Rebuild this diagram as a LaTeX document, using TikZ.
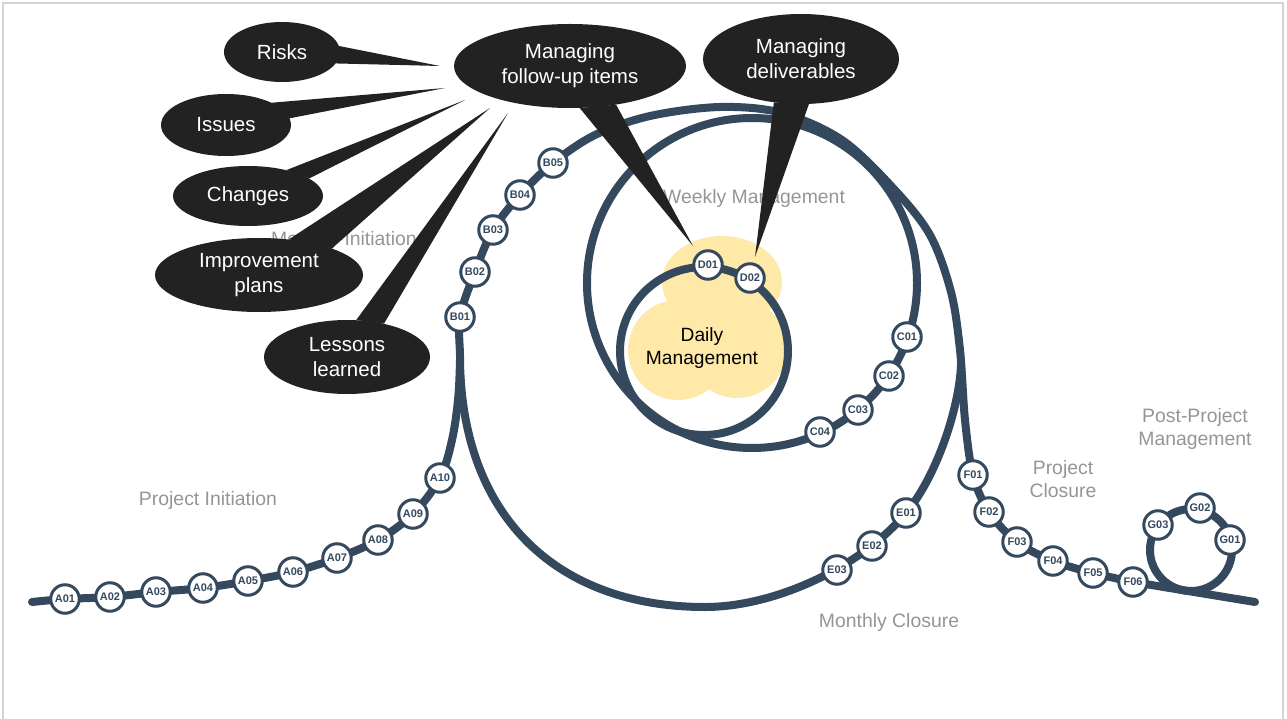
\documentclass[tikz,border=0pt]{standalone}
\usepackage{fontspec}
\setmainfont{Liberation Sans}
\usetikzlibrary{shapes.geometric}
\definecolor{trackc}{HTML}{34495E}
\definecolor{callc}{HTML}{222222}
\definecolor{grayt}{HTML}{959595}
\definecolor{cloudc}{HTML}{FFE9A8}
\definecolor{framec}{HTML}{D4D4D4}
\begin{document}
\begin{tikzpicture}[x=1pt,y=-1pt,
  track/.style={draw=trackc, line width=8pt, line cap=round, line join=round},
  stn/.style={circle, draw=trackc, fill=white, line width=3pt, minimum size=28.5pt, inner sep=0pt, text=trackc, font=\fontsize{11}{13}\selectfont\bfseries},
  phase/.style={text=grayt, align=center, inner sep=0pt, font=\fontsize{19.4}{23}\selectfont},
  callout/.style={ellipse, fill=callc, text=white, align=center, inner sep=0pt, font=\fontsize{20.5}{25}\selectfont},
  tail/.style={fill=callc}
]
\useasboundingbox (0,0) rectangle (1287,719);
\draw[framec, line width=1.5pt] (3,722) -- (3,3) -- (1283,3) -- (1283,722);

% ---- coordinates of the track ----
\coordinate (T0) at (32,602);
\coordinate (cA01) at (65,599);
\coordinate (cA02) at (110,597);
\coordinate (cA03) at (156,592);
\coordinate (cA04) at (203,588);
\coordinate (cA05) at (248,581);
\coordinate (cA06) at (293,572);
\coordinate (cA07) at (337,558);
\coordinate (cA08) at (378,540);
\coordinate (cA09) at (413,514);
\coordinate (cA10) at (440,478);
\coordinate (k1) at (452,440);
\coordinate (k2) at (458,400);
\coordinate (k3) at (460,360);
\coordinate (cB01) at (460,317);
\coordinate (cB02) at (475,272);
\coordinate (cB03) at (493,230);
\coordinate (cB04) at (520,195);
\coordinate (cB05) at (553,163);
\coordinate (o1) at (595,135);
\coordinate (o2) at (650,116);
\coordinate (o3) at (720,107);
\coordinate (o4) at (782,113);
\coordinate (o5) at (842,140);
\coordinate (o6) at (893,188);
\coordinate (o7) at (930,235);
\coordinate (o8) at (951,292);
\coordinate (o9) at (960,350);
\coordinate (o10) at (965,420);
\coordinate (cF01) at (973,475);
\coordinate (cF02) at (989,512);
\coordinate (cF03) at (1017,542);
\coordinate (cF04) at (1053,561);
\coordinate (cF05) at (1093,573);
\coordinate (cF06) at (1133,582);
\coordinate (T1) at (1255,602);
\coordinate (mb) at (705,607);
\coordinate (cE03) at (837,570);
\coordinate (cE02) at (872,546);
\coordinate (cE01) at (906,513);
\coordinate (m10) at (961,365);
\coordinate (Wc) at (752,283);
\coordinate (Dc) at (704,351);
\coordinate (Gc) at (1191,550);
\coordinate (cC01) at (907,337);
\coordinate (cC02) at (889,376);
\coordinate (cC03) at (858,410);
\coordinate (cC04) at (820,432);
\coordinate (cD01) at (708,265);
\coordinate (cD02) at (750,278);
\coordinate (cG01) at (1230,540);
\coordinate (cG02) at (1200,508);
\coordinate (cG03) at (1158,525);

% ---- daily cloud ----
\fill[cloudc] (722,282) ellipse[x radius=60, y radius=46];
\fill[cloudc] (678,350) circle[radius=50];
\fill[cloudc] (737,348) circle[radius=50];

% ---- track ----
\draw[track] plot[smooth, tension=0.55] coordinates {(T0) (cA01) (cA02) (cA03) (cA04) (cA05) (cA06) (cA07) (cA08) (cA09) (cA10) (k1) (k2) (k3) (cB01) (cB02) (cB03) (cB04) (cB05) (o1) (o2) (o3) (o4) (o5) (o6) (o7) (o8) (o9) (o10) (cF01) (cF02) (cF03) (cF04) (cF05) (cF06)} -- (T1);
\draw[track] (k3) .. controls (462,520) and (560,607) .. (mb)
  .. controls (775,607) and (861,567) .. (cE01)
  .. controls (936,477) and (959,410) .. (m10);
\draw[track] (Wc) circle[radius=165];
\draw[track] (Dc) circle[radius=84];
\draw[track] (Gc) circle[radius=41];

\node[text=black, align=center, inner sep=0pt, font=\fontsize{19.2}{23}\selectfont] (daily) at (702,348) {Daily\\Management};

% ---- stations ----
\foreach \n in {A01,A02,A03,A04,A05,A06,A07,A08,A09,A10,B01,B02,B03,B04,B05,C01,C02,C03,C04,D01,D02,E01,E02,E03,F01,F02,F03,F04,F05,F06,G01,G02,G03}
  \node[stn] (\n) at (c\n) {\n};

% ---- phase labels ----
\node[phase] (lmi) at (344,240) {Monthly Initiation};
\node[phase] (lwm) at (754,198) {Weekly Management};
\node[phase] (lpi) at (208,500) {Project Initiation};
\node[phase] (lmc) at (889,622) {Monthly Closure};
\node[phase] (lpc) at (1063,479) {Project\\Closure};
\node[phase] (lpp) at (1195,429) {Post-Project\\Management};

% ---- callouts ----
\coordinate (tR) at (440,66);
\coordinate (tI) at (445,88);
\coordinate (tC) at (465,100);
\coordinate (tP) at (490,108);
\coordinate (tL) at (508,113);
\coordinate (tF) at (693,246);
\coordinate (tD) at (755,257);

\node[callout, minimum width=116pt, minimum height=60pt] (risks) at (282,52) {Risks};
\node[callout, minimum width=130pt, minimum height=62pt] (issues) at (226,125) {Issues};
\node[callout, minimum width=150pt, minimum height=60pt] (changes) at (248,196) {Changes};
\node[callout, minimum width=208pt, minimum height=74pt] (impr) at (259,275) {Improvement\\plans};
\node[callout, minimum width=166pt, minimum height=74pt] (lessons) at (347,357) {Lessons\\learned};
\node[callout, minimum width=232pt, minimum height=84pt] (follow) at (570,66) {Managing\\follow-up items};
\node[callout, minimum width=196pt, minimum height=90pt] (deliv) at (801,59) {Managing\\deliverables};

\fill[tail] (risks.6) -- (tR) -- (risks.-12) -- cycle;
\fill[tail] (issues.26) -- (tI) -- (issues.6) -- cycle;
\fill[tail] (changes.34) -- (tC) -- (changes.16) -- cycle;
\fill[tail] (impr.50) -- (tP) -- (impr.20) -- cycle;
\fill[tail] (lessons.76) -- (tL) -- (lessons.42) -- cycle;
\fill[tail] (follow.-77) -- (tF) -- (follow.-40) -- cycle;
\fill[tail] (deliv.-122) -- (tD) -- (deliv.-80) -- cycle;
\end{tikzpicture}
\end{document}
